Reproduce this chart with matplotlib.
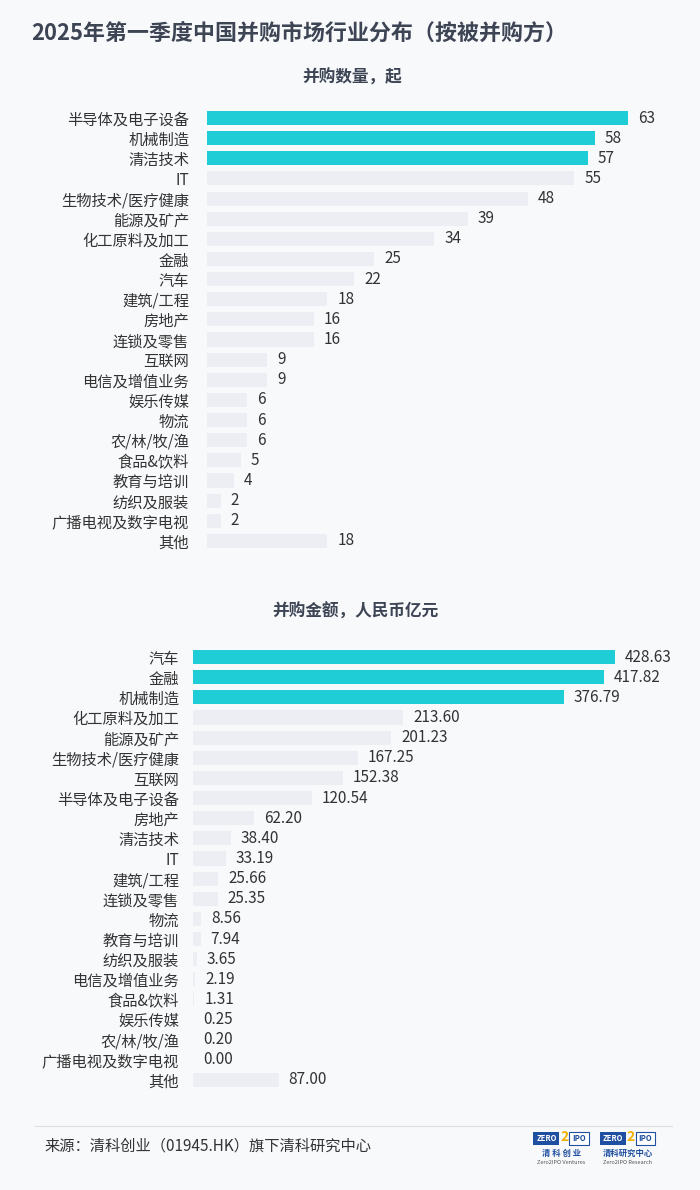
import matplotlib
matplotlib.use("Agg")
from matplotlib import pyplot as plt
from matplotlib.patches import Rectangle

plt.rcParams['font.family'] = ['Noto Sans CJK SC', 'DejaVu Sans']

# 数据
cats1 = ['半导体及电子设备', '机械制造', '清洁技术', 'IT', '生物技术/医疗健康', '能源及矿产',
         '化工原料及加工', '金融', '汽车', '建筑/工程', '房地产', '连锁及零售', '互联网',
         '电信及增值业务', '娱乐传媒', '物流', '农/林/牧/渔', '食品&饮料', '教育与培训',
         '纺织及服装', '广播电视及数字电视', '其他']
vals1 = [63, 58, 57, 55, 48, 39, 34, 25, 22, 18, 16, 16, 9, 9, 6, 6, 6, 5, 4, 2, 2, 18]

cats2 = ['汽车', '金融', '机械制造', '化工原料及加工', '能源及矿产', '生物技术/医疗健康', '互联网',
         '半导体及电子设备', '房地产', '清洁技术', 'IT', '建筑/工程', '连锁及零售', '物流',
         '教育与培训', '纺织及服装', '电信及增值业务', '食品&饮料', '娱乐传媒', '农/林/牧/渔',
         '广播电视及数字电视', '其他']
vals2 = [428.63, 417.82, 376.79, 213.60, 201.23, 167.25, 152.38, 120.54, 62.20, 38.40, 33.19,
         25.66, 25.35, 8.56, 7.94, 3.65, 2.19, 1.31, 0.25, 0.20, 0.00, 87.00]

n_top = 3
cyan = '#1ecdd5'
grey = '#eceef4'
bg = '#f8f9fb'
txt = '#333333'

fig = plt.figure(figsize=(7, 11.9), dpi=100, facecolor=bg)


def draw(ax, cats, vals, xmax, fmt, off, pad):
    y = list(range(len(cats)))
    colors = [cyan if i < n_top else grey for i in y]
    ax.barh(y, vals, height=0.7, color=colors)
    for i, v in enumerate(vals):
        ax.text(v + off, i, fmt.format(v), va='center', ha='left', fontsize=11, color=txt)
    ax.set_yticks(y)
    ax.set_yticklabels(cats, fontsize=11, color=txt)
    ax.set_ylim(len(cats) - 0.5, -0.5)
    ax.set_xlim(0, xmax)
    ax.set_xticks([])
    ax.tick_params(axis='y', length=0, pad=pad)
    for s in ax.spines.values():
        s.set_visible(False)
    ax.set_facecolor('none')


ax1 = fig.add_axes([0.296, 0.537, 0.664, 0.3723])
draw(ax1, cats1, vals1, 69.6, '{:d}', 1.5, 13)

ax2 = fig.add_axes([0.2757, 0.084, 0.6843, 0.3723])
draw(ax2, cats2, vals2, 486.5, '{:.2f}', 10, 10)

# 标题
fig.text(0.044, 1 - 33 / 1190, '2025年第一季度中国并购市场行业分布（按被并购方）',
         fontsize=15.8, fontweight='bold', color='#3d4555', va='center')
fig.text(0.503, 1 - 78 / 1190, '并购数量，起', fontsize=12, fontweight='bold',
         color='#3d4555', va='center', ha='center')
fig.text(0.507, 1 - 612 / 1190, '并购金额，人民币亿元', fontsize=12, fontweight='bold',
         color='#3d4555', va='center', ha='center')

# 底部
fig.add_artist(plt.Line2D([0.05, 0.96], [1 - 1126 / 1190] * 2, color='#dcdfe4', lw=0.8))
fig.text(0.064, 1 - 1146 / 1190, '来源：清科创业（01945.HK）旗下清科研究中心',
         fontsize=11, color=txt, va='center')

# 简单的 logo
for x0, sub, en in [(0.762, '清 科 创 业', 'Zero2IPO Ventures'), (0.857, '清科研究中心', 'Zero2IPO Research')]:
    yb = 1 - 1146 / 1190
    fig.add_artist(Rectangle((x0, yb + 0.001), 0.037, 0.011, transform=fig.transFigure,
                             facecolor='#1f4fa0', edgecolor='none'))
    fig.text(x0 + 0.0185, yb + 0.0065, 'ZERO', fontsize=5.5, color='white', fontweight='bold',
             ha='center', va='center')
    fig.text(x0 + 0.044, yb + 0.0075, '2', fontsize=10, color='#f0b000', fontweight='bold',
             ha='center', va='center')
    fig.add_artist(Rectangle((x0 + 0.051, yb + 0.001), 0.028, 0.011, transform=fig.transFigure,
                             facecolor='white', edgecolor='#1f4fa0', lw=0.8))
    fig.text(x0 + 0.065, yb + 0.0065, 'IPO', fontsize=5.5, color='#1f4fa0', fontweight='bold',
             ha='center', va='center')
    fig.text(x0 + 0.04, yb - 0.006, sub, fontsize=6, color='#1f4fa0', fontweight='bold',
             ha='center', va='center')
    fig.text(x0 + 0.04, yb - 0.0135, en, fontsize=4, color='#555555', ha='center', va='center')

plt.savefig('out.png', dpi=100, facecolor=bg)
